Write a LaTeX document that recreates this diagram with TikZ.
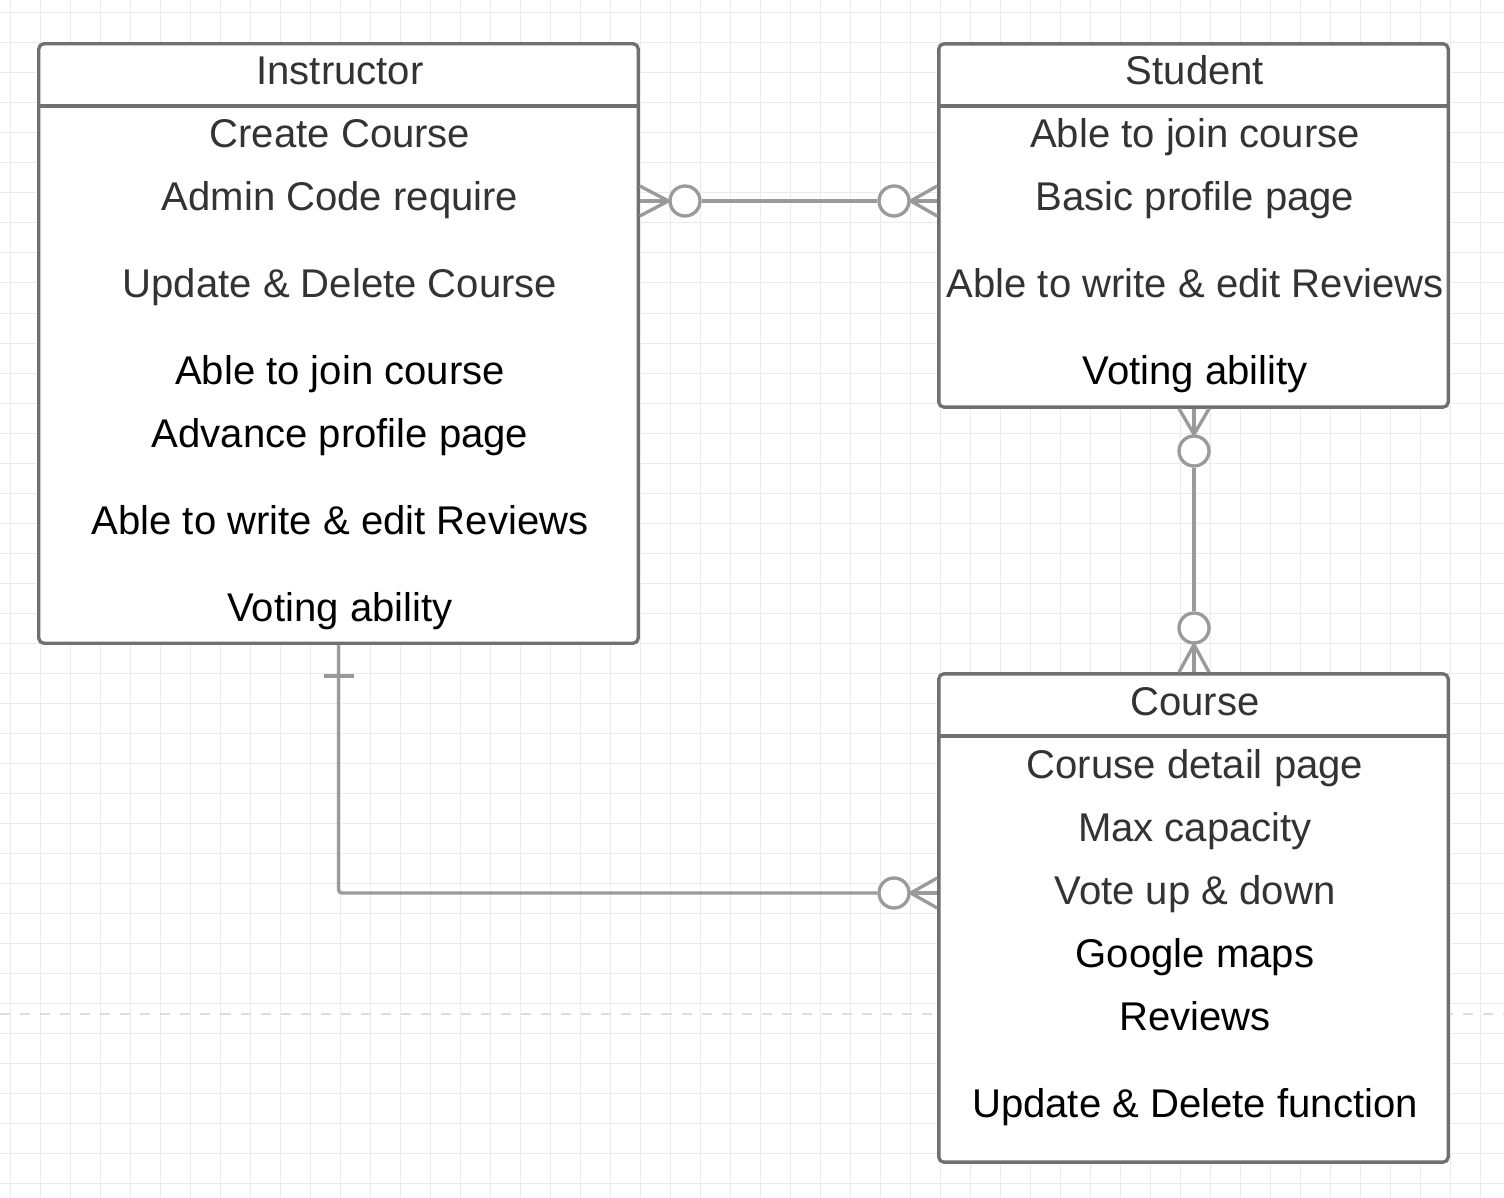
\documentclass[tikz,border=0pt]{standalone}
\usepackage{fontspec}
\setmainfont{Liberation Sans}
\usetikzlibrary{calc}
\definecolor{bordergray}{HTML}{707070}
\definecolor{linkgray}{HTML}{9A9A9A}
\definecolor{textgray}{HTML}{333333}
\definecolor{gridgray}{HTML}{EBEBEB}
\definecolor{pagegray}{HTML}{DDDDDD}
\newcommand{\fieldsize}{\fontsize{11.4pt}{13.7pt}\selectfont}
\tikzstyle{gridline} = [% background grid
  draw=gridgray,
  line width=0.28pt
  ]
\tikzstyle{pageline} = [% page break
  draw=pagegray,
  line width=0.8pt,
  dash pattern=on 2.85pt off 2.85pt
  ]
\tikzstyle{entity} = [% entity table
  rectangle,
  rounded corners=1.4pt,
  draw=bordergray,
  line width=0.95pt,
  fill=white
  ]
\tikzstyle{divider} = [% line under the entity name
  draw=bordergray,
  line width=0.95pt
  ]
\tikzstyle{field} = [% text of a row
  anchor=base,
  inner sep=0pt,
  font=\fieldsize,
  text=textgray
  ]
\tikzstyle{fieldb} = [% black text of a row
  field,
  text=black
  ]
\tikzstyle{link} = [% relationship line
  draw=linkgray,
  line width=0.95pt
  ]
\tikzstyle{zero} = [% optional end
  circle,
  minimum size=0.3cm,
  inner sep=0pt,
  draw=linkgray,
  line width=0.95pt,
  fill=white
  ]
\begin{document}
\begin{tikzpicture}[x=0.01cm, y=-0.01cm]
\useasboundingbox (0,0) rectangle (1504,1198);

%%% Background
\foreach \gx in {10,40,...,1500} \draw[gridline] (\gx,0) -- (\gx,1198);
\foreach \gy in {13,43,...,1190} \draw[gridline] (0,\gy) -- (1504,\gy);
\draw[pageline] (0,1014) -- (1504,1014);

%%% Entities
\node[entity, minimum width=5.99cm, minimum height=5.99cm] (instructor) at (338.5,343.5) {};
\node[entity, minimum width=5.09cm, minimum height=3.63cm] (student) at (1193.5,225.5) {};
\node[entity, minimum width=5.09cm, minimum height=4.88cm] (course) at (1193.5,918) {};
\draw[divider] (instructor.west |- 0,106) -- (instructor.east |- 0,106);
\draw[divider] (student.west |- 0,106) -- (student.east |- 0,106);
\draw[divider] (course.west |- 0,736) -- (course.east |- 0,736);

%%% Instructor
\node[field] (iname) at (340,85) {Instructor};
\node[field] (icreate) at (340,148) {Create Course};
\node[field] (iadmin) at (340,211) {Admin Code require};
\node[field] (iupdate) at (340,298) {Update \& Delete Course};
\node[fieldb] (ijoin) at (340,385) {Able to join course};
\node[fieldb] (iprofile) at (340,448) {Advance profile page};
\node[fieldb] (ireview) at (340,535) {Able to write \& edit Reviews};
\node[fieldb] (ivote) at (340,622) {Voting ability};

%%% Student
\node[field] (sname) at (1195,85) {Student};
\node[field] (sjoin) at (1195,148) {Able to join course};
\node[field] (sprofile) at (1195,211) {Basic profile page};
\node[field] (sreview) at (1195,298) {Able to write \& edit Reviews};
\node[fieldb] (svote) at (1195,385) {Voting ability};

%%% Course
\node[field] (cname) at (1195,715) {Course};
\node[field] (cdetail) at (1195,778) {Coruse detail page};
\node[field] (cmax) at (1195,841) {Max capacity};
\node[field] (cvote) at (1195,904) {Vote up \& down};
\node[fieldb] (cmaps) at (1195,967) {Google maps};
\node[fieldb] (creview) at (1195,1030) {Reviews};
\node[fieldb] (cupdate) at (1195,1117) {Update \& Delete function};

%%% Instructor -- Student
\node[zero] (zeroa) at (685,201) {};
\node[zero] (zerob) at (894,201) {};
\draw[link] (zeroa) -- (zerob);
\draw[link] ($(instructor.east |- zeroa)+(0,-15)$) -- (zeroa.west) -- ($(instructor.east |- zeroa)+(0,15)$);
\draw[link] (instructor.east |- zeroa) -- (zeroa.west);
\draw[link] ($(student.west |- zerob)+(0,-15)$) -- (zerob.east) -- ($(student.west |- zerob)+(0,15)$);
\draw[link] (student.west |- zerob) -- (zerob.east);

%%% Student -- Course
\node[zero] (zeroc) at (1194,451) {};
\node[zero] (zerod) at (1194,628) {};
\draw[link] (zeroc) -- (zerod);
\draw[link] ($(student.south -| zeroc)+(-15,0)$) -- (zeroc.north) -- ($(student.south -| zeroc)+(15,0)$);
\draw[link] (student.south -| zeroc) -- (zeroc.north);
\draw[link] ($(course.north -| zerod)+(-15,0)$) -- (zerod.south) -- ($(course.north -| zerod)+(15,0)$);
\draw[link] (course.north -| zerod) -- (zerod.south);

%%% Instructor -- Course
\node[zero] (zeroe) at (894,893) {};
\draw[link, rounded corners=1pt] (instructor.south) |- (zeroe.west);
\draw[link] ($(instructor.south)+(-15,31)$) -- ($(instructor.south)+(15,31)$);
\draw[link] ($(course.west |- zeroe)+(0,-15)$) -- (zeroe.east) -- ($(course.west |- zeroe)+(0,15)$);
\draw[link] (course.west |- zeroe) -- (zeroe.east);

\end{tikzpicture}
\end{document}
